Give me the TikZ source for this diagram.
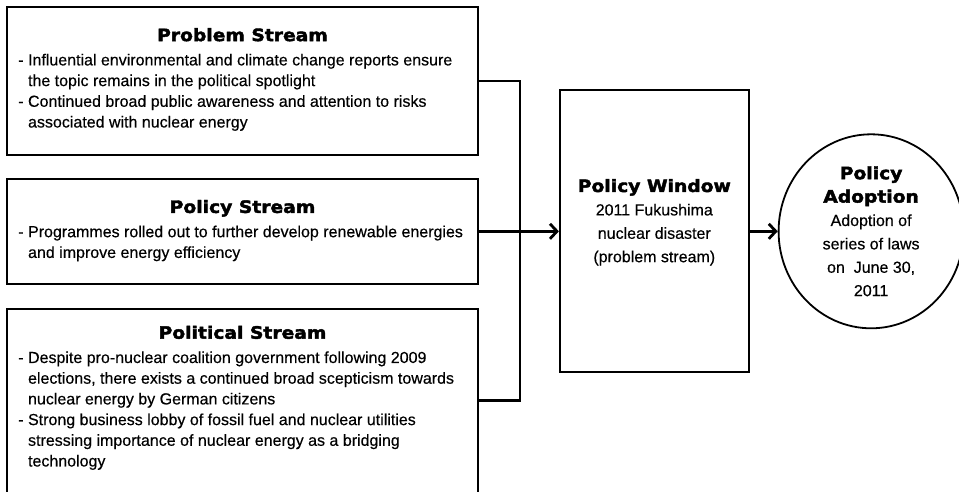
\documentclass[tikz,border=0pt]{standalone}
\usepackage{fontspec}
\setmainfont{Liberation Sans}[FakeBold=0.4]
\newfontfamily\headfont{DejaVu Sans}[FakeStretch=1.1, FakeBold=2.4]
\newcommand{\streamhd}{\headfont\bfseries\fontsize{17}{23.4}\selectfont}
\usetikzlibrary{positioning,shapes.geometric,arrows.meta}

\begin{document}
\begin{tikzpicture}[
  x=1pt, y=1pt,
  streambox/.style={rectangle, draw, line width=1.8pt, minimum width=471pt},
  streamhead/.style={anchor=base, inner sep=0pt, font=\streamhd},
  bullets/.style={anchor=north west, inner sep=0pt, align=left, font=\fontsize{16}{20.7}\selectfont},
  centretext/.style={inner sep=0pt, align=center, font=\fontsize{16}{23.4}\selectfont},
  link/.style={line width=2.8pt},
  feed/.style={link, -{Straight Barb[length=7pt, width=15pt]}}
]
\useasboundingbox (0,0) rectangle (959,-492);

% the three streams
\node[streambox, minimum height=148pt] (prob) at (242.5,-81) {};
\node[streambox, minimum height=105pt, below=22pt of prob] (pol) {};
\node[streambox, minimum height=184pt, below=23pt of pol] (polit) {};

\node[streamhead] (probhead) at ([yshift=-35pt]prob.north) {Problem Stream};
\node[bullets] (probtext) at ([shift={(12,-47.5)}]prob.north west)
  {- Influential environmental and climate change reports ensure\\
   \phantom{-} the topic remains in the political spotlight\\
   - Continued broad public awareness and attention to risks\\
   \phantom{-} associated with nuclear energy};

\node[streamhead] (polhead) at ([yshift=-35pt]pol.north) {Policy Stream};
\node[bullets] (poltext) at ([shift={(12,-47.5)}]pol.north west)
  {- Programmes rolled out to further develop renewable energies\\
   \phantom{-} and improve energy efficiency};

\node[streamhead] (polithead) at ([yshift=-31pt]polit.north) {Political Stream};
\node[bullets] (polittext) at ([shift={(12,-43.5)}]polit.north west)
  {- Despite pro-nuclear coalition government following 2009\\
   \phantom{-} elections, there exists a continued broad scepticism towards\\
   \phantom{-} nuclear energy by German citizens\\
   - Strong business lobby of fossil fuel and nuclear utilities\\
   \phantom{-} stressing importance of nuclear energy as a bridging\\
   \phantom{-} technology};

% window and adoption
\node[streambox, minimum width=189pt, minimum height=282pt, right=80pt of pol] (win) {};
\node[centretext] (wintext) at ([yshift=9pt]win.center)
  {{\streamhd Policy Window}\\2011 Fukushima\\nuclear disaster\\(problem stream)};
\node[ellipse, draw, line width=1.8pt, minimum width=185pt, minimum height=194pt,
  centretext, right=28pt of win] (adopt)
  {{\streamhd Policy}\\{\streamhd Adoption}\\Adoption of\\series of laws\\on \ June 30,\\2011};

% connectors
\coordinate (join) at (520,-230);
\draw[link] (prob.east) -| (join) |- (polit.east);
\draw[feed] (pol.east) -- (win.west);
\draw[feed] (win.east) -- (adopt.west);
\end{tikzpicture}
\end{document}
